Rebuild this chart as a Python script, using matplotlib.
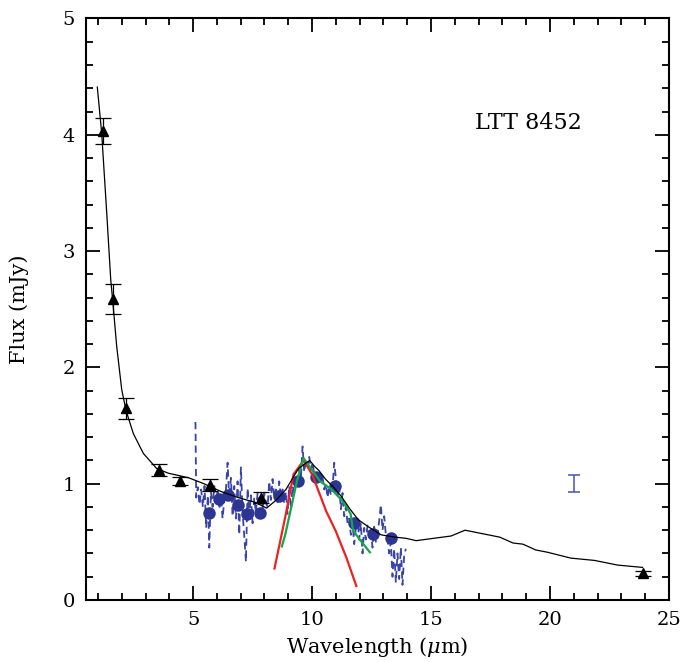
import numpy as np
import matplotlib
matplotlib.use("Agg")
import matplotlib.pyplot as plt
from matplotlib.ticker import MultipleLocator

# broadband photometry (triangles)
phot_wl = [1.23, 1.65, 2.17, 3.58, 4.47, 5.7, 7.85, 23.9]
phot_flux = [4.03, 2.59, 1.65, 1.12, 1.02, 0.99, 0.88, 0.23]
phot_err = [0.11, 0.13, 0.09, 0.05, 0.035, 0.05, 0.045, 0.02]

# binned IRS spectrum (blue circles)
bin_wl = [5.68, 6.07, 6.46, 6.88, 7.26, 7.82, 8.62, 9.4, 10.15, 10.96, 11.77, 12.54, 13.31]
bin_flux = [0.75, 0.87, 0.90, 0.82, 0.74, 0.75, 0.89, 1.02, 1.06, 0.98, 0.66, 0.57, 0.53]

# raw IRS spectrum (blue dashed)
spec_wl = [5.10, 5.13, 5.20, 5.27, 5.34, 5.41, 5.48, 5.55, 5.62, 5.68,
           5.75, 5.82, 5.89, 5.96, 6.03, 6.10, 6.17, 6.24, 6.31, 6.38,
           6.45, 6.52, 6.59, 6.66, 6.73, 6.80, 6.87, 6.94, 7.01, 7.08,
           7.15, 7.22, 7.29, 7.36, 7.43, 7.50, 7.57, 7.64, 7.71, 7.78,
           7.85, 7.92, 7.99, 8.06, 8.13, 8.20, 8.27, 8.34, 8.41, 8.48,
           8.55, 8.62, 8.69, 8.76, 8.83, 8.90, 8.97, 9.04, 9.11, 9.18,
           9.25, 9.32, 9.39, 9.46, 9.53, 9.60, 9.67, 9.74, 9.81, 9.88,
           9.95, 10.02, 10.09, 10.16, 10.23, 10.30, 10.37, 10.44, 10.51, 10.58,
           10.65, 10.72, 10.79, 10.86, 10.93, 11.00, 11.07, 11.14, 11.21, 11.28,
           11.35, 11.42, 11.49, 11.56, 11.63, 11.70, 11.77, 11.84, 11.91, 11.98,
           12.05, 12.12, 12.19, 12.26, 12.33, 12.40, 12.47, 12.54, 12.61, 12.68,
           12.75, 12.82, 12.89, 12.96, 13.03, 13.10, 13.17, 13.24, 13.31, 13.38,
           13.45, 13.52, 13.59, 13.66, 13.73, 13.80, 13.87, 13.94]
spec_flux = [1.53, 0.88, 0.97, 0.82, 0.95, 0.80, 0.98, 0.62, 0.90, 0.45,
             0.93, 0.80, 0.98, 0.84, 0.93, 0.78, 0.88, 0.70, 0.86, 0.95,
             1.18, 0.86, 1.05, 0.72, 0.98, 0.70, 1.02, 0.56, 1.14, 0.75,
             0.55, 0.33, 0.96, 0.72, 0.90, 0.66, 0.88, 0.75, 0.92, 0.80,
             0.90, 0.78, 0.92, 0.84, 0.80, 1.02, 0.86, 1.04, 0.88, 0.95,
             0.84, 1.02, 0.88, 0.95, 0.83, 0.93, 0.74, 0.98, 0.78, 0.98,
             0.92, 1.06, 0.98, 1.12, 1.05, 1.32, 1.10, 1.20, 1.15, 1.23,
             1.12, 1.18, 1.08, 1.10, 1.04, 1.08, 1.02, 1.06, 0.95, 1.00,
             0.88, 0.98, 0.90, 0.96, 1.18, 1.05, 0.90, 0.98, 0.78, 0.92,
             0.72, 0.80, 0.66, 0.70, 0.56, 0.66, 0.48, 0.62, 0.70, 0.52,
             0.66, 0.40, 0.62, 0.52, 0.64, 0.55, 0.60, 0.45, 0.63, 0.50,
             0.57, 0.68, 0.82, 0.60, 0.72, 0.56, 0.52, 0.40, 0.50, 0.20,
             0.44, 0.15, 0.40, 0.18, 0.45, 0.13, 0.38, 0.44]

# total model (black)
model_wl = [0.975, 1.16, 1.37, 1.54, 1.62, 1.79, 2.0, 2.18, 2.49, 2.91,
            3.47, 3.96, 4.4, 4.82, 5.45, 6.2, 6.9, 7.6, 8.09, 8.5,
            8.9, 9.43, 9.9, 10.1, 10.3, 10.56, 10.9, 11.23, 11.6, 11.94,
            12.36, 12.9, 13.5, 13.95, 14.37, 15.84, 16.43, 17.89, 18.44, 18.86,
            19.4, 19.9, 20.87, 21.87, 22.84, 23.89]
model_flux = [4.41, 4.01, 3.33, 2.75, 2.58, 2.18, 1.81, 1.63, 1.43, 1.26,
              1.13, 1.09, 1.07, 1.05, 1.00, 0.93, 0.88, 0.84, 0.79, 0.86,
              0.95, 1.13, 1.20, 1.15, 1.11, 1.04, 0.97, 0.89, 0.78, 0.69,
              0.63, 0.56, 0.54, 0.53, 0.51, 0.55, 0.60, 0.54, 0.49, 0.48,
              0.43, 0.41, 0.36, 0.34, 0.30, 0.28]

# silicate feature models
red_wl = [8.42, 8.87, 9.22, 9.65, 10.0, 10.34, 10.6, 11.0, 11.45, 11.86]
red_flux = [0.27, 0.71, 1.08, 1.20, 1.08, 0.90, 0.76, 0.59, 0.36, 0.12]
green_wl = [8.73, 8.87, 9.15, 9.36, 9.64, 9.92, 10.34, 10.82, 11.24, 11.45,
            11.62, 11.72, 12.0, 12.43]
green_flux = [0.46, 0.56, 0.82, 1.02, 1.22, 1.14, 1.02, 0.95, 0.86, 0.80,
              0.74, 0.60, 0.52, 0.41]

# typical IRS error bar
typ_wl, typ_flux, typ_err = 21.0, 1.0, 0.075

plt.rcParams['font.family'] = ['DejaVu Serif']
plt.rcParams['mathtext.fontset'] = 'dejavuserif'

fig = plt.figure(figsize=(6.81, 6.62), dpi=100)
ax = fig.add_axes([0.1263, 0.0937, 0.8561, 0.8784])

blue = '#2c3592'
ax.plot(spec_wl, spec_flux, color='#3a44a6', lw=1.3, ls=(0, (4, 2.5)), zorder=1)
ax.plot(bin_wl, bin_flux, 'o', color=blue, ms=9, mec='none', zorder=2)
ax.plot(red_wl, red_flux, color='#ee2020', lw=1.6, zorder=3)
ax.plot(green_wl, green_flux, color='#12a84a', lw=1.6, zorder=4)
ax.plot(model_wl, model_flux, color='k', lw=0.9, zorder=5)
ax.errorbar(phot_wl, phot_flux, yerr=phot_err, fmt='^', color='k', ms=7,
            elinewidth=0.9, capsize=6, capthick=0.9, zorder=6)
ax.errorbar([typ_wl], [typ_flux], yerr=[typ_err], fmt='none', ecolor='#4a52ad',
            elinewidth=1.1, capsize=4, capthick=1.1, zorder=6)

ax.text(16.85, 4.1, 'LTT 8452', fontsize=16, ha='left', va='center')

ax.set_xlim(0.5, 25)
ax.set_ylim(0, 5)
ax.xaxis.set_major_locator(MultipleLocator(5))
ax.xaxis.set_minor_locator(MultipleLocator(1))
ax.yaxis.set_major_locator(MultipleLocator(1))
ax.yaxis.set_minor_locator(MultipleLocator(0.2))
ax.tick_params(which='both', direction='in', top=True, right=True, width=1.3)
ax.tick_params(which='major', length=10, labelsize=14, pad=8)
ax.tick_params(which='minor', length=5)
for s in ax.spines.values():
    s.set_linewidth(1.5)

ax.set_xlabel(r'Wavelength ($\mu$m)', fontsize=15, labelpad=4)
ax.set_ylabel('Flux (mJy)', fontsize=15, labelpad=24)

fig.savefig('out.png', dpi=100)
